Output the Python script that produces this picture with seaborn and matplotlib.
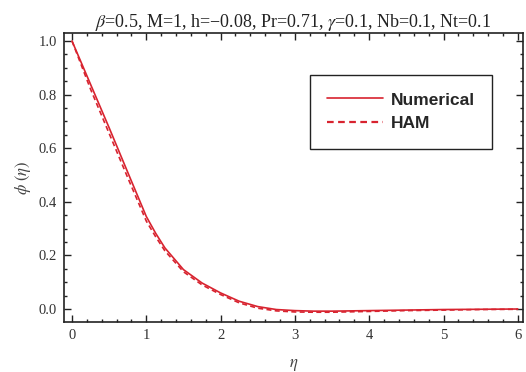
import numpy as np
import pandas as pd
import matplotlib
matplotlib.use("Agg")
import matplotlib.pyplot as plt
from matplotlib.ticker import MultipleLocator
from matplotlib.lines import Line2D
import seaborn as sns

eta = [0.0, 0.25, 0.5, 0.75, 1.0, 1.125, 1.25, 1.5, 1.75, 2.0, 2.25, 2.5, 2.75,
       3.0, 3.25, 3.5, 4.0, 4.5, 5.0, 5.5, 6.0]
numerical = [1.0, 0.838, 0.676, 0.51, 0.345, 0.283, 0.228, 0.147, 0.097, 0.06,
             0.029, 0.009, -0.002, -0.006, -0.008, -0.008, -0.006, -0.004,
             -0.002, -0.001, 0.0]
ham = [1.0, 0.82, 0.655, 0.49, 0.328, 0.27, 0.217, 0.139, 0.09, 0.054, 0.023,
       0.003, -0.007, -0.011, -0.012, -0.012, -0.009, -0.006, -0.004,
       -0.002, -0.001]
series_names = ["Numerical", "HAM"]
x_ticks = [0, 1, 2, 3, 4, 5, 6]
y_ticks = [0.0, 0.2, 0.4, 0.6, 0.8, 1.0]
title = r"$\beta$=0.5, M=1, h=−0.08, Pr=0.71, $\gamma$=0.1, Nb=0.1, Nt=0.1"

sns.set_style("ticks")
plt.rcParams["font.family"] = ["Liberation Serif", "DejaVu Serif"]
plt.rcParams["mathtext.fontset"] = "stix"

df = pd.DataFrame({
    "eta": eta * 2,
    "phi": numerical + ham,
    "method": [series_names[0]] * len(eta) + [series_names[1]] * len(eta),
})

fig = plt.figure(figsize=(5.26, 3.72), dpi=100)
ax = fig.add_axes([64 / 526, 50 / 372, (523 - 64) / 526, (322 - 33) / 372])
red = "#d8232f"
sns.lineplot(data=df, x="eta", y="phi", hue="method", style="method",
             palette={series_names[0]: red, series_names[1]: red},
             dashes={series_names[0]: (None, None), series_names[1]: (3, 2)},
             linewidth=1.2, ax=ax, legend=False, sort=False)

ax.set_xlim(-0.108, 6.07)
ax.set_ylim(-0.0485, 1.03)
ax.set_xticks(x_ticks)
ax.set_yticks(y_ticks)
ax.set_xticklabels([str(t) for t in x_ticks])
ax.set_yticklabels([f"{t:.1f}" for t in y_ticks])
ax.xaxis.set_minor_locator(MultipleLocator(0.2))
ax.yaxis.set_minor_locator(MultipleLocator(0.05))
ax.tick_params(which="both", direction="in", top=True, right=True,
               width=1.0, colors="#222222", labelcolor="#333333",
               labelsize=10.5, pad=5)
ax.tick_params(which="major", length=5)
ax.tick_params(which="minor", length=2.5)
for s in ax.spines.values():
    s.set_linewidth(1.2)
    s.set_color("#222222")

ax.set_xlabel(r"$\eta$", fontsize=12, color="#444444", labelpad=11)
ax.set_ylabel(r"$\phi\ (\eta)$", fontsize=12, color="#444444", labelpad=4)
ax.set_title(title, fontsize=13, color="#222222", pad=3)

handles = [Line2D([], [], color=red, lw=1.2),
           Line2D([], [], color=red, lw=1.6, ls=(0, (3, 2)))]
leg = ax.legend(handles, series_names, loc="upper left",
                bbox_to_anchor=((310 - 64) / 459, 1.0 - (75 - 33) / 289),
                frameon=True, fancybox=False, framealpha=1,
                edgecolor="#222222", handlelength=3.2, borderpad=1.0,
                labelspacing=0.5, handletextpad=0.45, borderaxespad=0,
                prop={"family": "Liberation Sans", "weight": "bold", "size": 12.5})
leg.get_frame().set_linewidth(1.0)

fig.savefig("out.png", dpi=100)
